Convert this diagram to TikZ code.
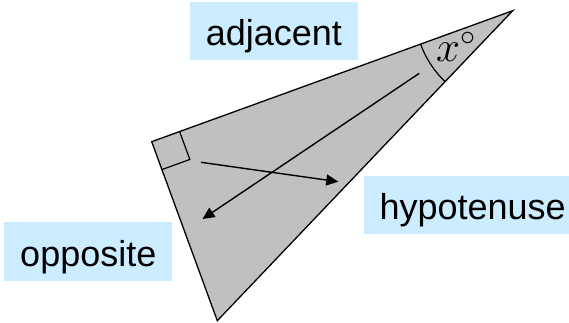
\RequirePackage{fix-cm}
\documentclass[tikz,border=0pt]{standalone}
\usepackage{fontspec}
\setmainfont{Liberation Sans}
\usepackage{tikz}
\usetikzlibrary{calc}
\usetikzlibrary{positioning}
\usetikzlibrary{arrows.meta}
\definecolor{labelblue}{HTML}{CCECFF}
\definecolor{trigray}{HTML}{C0C0C0}
\tikzset{
    sidelabel/.style={fill=labelblue, inner xsep=16pt, inner ysep=10.75pt,
        text height=33pt, text depth=4pt, font=\fontsize{36}{40}\selectfont},
    pointer/.style={line width=1.4pt, -{Triangle[length=12pt,width=11pt]}}
}

\begin{document}
\begin{tikzpicture}[x=1pt, y=1pt]
        \useasboundingbox (0,0) rectangle (569,322);
        \clip (0,0) rectangle (569,322);
        \coordinate (A) at (151.7, 180.3);
        \coordinate (B) at (512.7, 311.3);
        \coordinate (C) at (217.3, 1.3);
        \draw[line width=1.3pt, fill=trigray, line join=miter] (A) -- (B) -- (C) -- cycle;

        \coordinate (sqB) at ($(A)!29.7pt!(B)$);
        \coordinate (sqC) at ($(A)!29.7pt!(C)$);
        \draw[line width=1.2pt] (sqB) -- ($(sqB)+(sqC)-(A)$) -- (sqC);
        \draw[line width=1.2pt] ([shift={(199.9:98pt)}]B) arc (199.9:226.4:98pt);
        \node[anchor=base west, inner sep=0pt, font=\fontsize{43}{48}\selectfont] (angx) at (436, 261) {$x^\circ$};

        \coordinate (hypfrom) at (201, 159.7);
        \coordinate (hypto) at (338.3, 140.3);
        \coordinate (oppfrom) at (419.3, 248.7);
        \coordinate (oppto) at (202.5, 103);
        \draw[pointer] (hypfrom) -- (hypto);
        \draw[pointer] (oppfrom) -- (oppto);

        \node[sidelabel] (adj) at (273.8, 290.8) {adjacent};
        \node[sidelabel, anchor=west] (hyp) at (363.3, 117.2) {hypotenuse};
        \node[sidelabel] (opp) at (88.3, 70.5) {opposite};
    \end{tikzpicture}
\end{document}
